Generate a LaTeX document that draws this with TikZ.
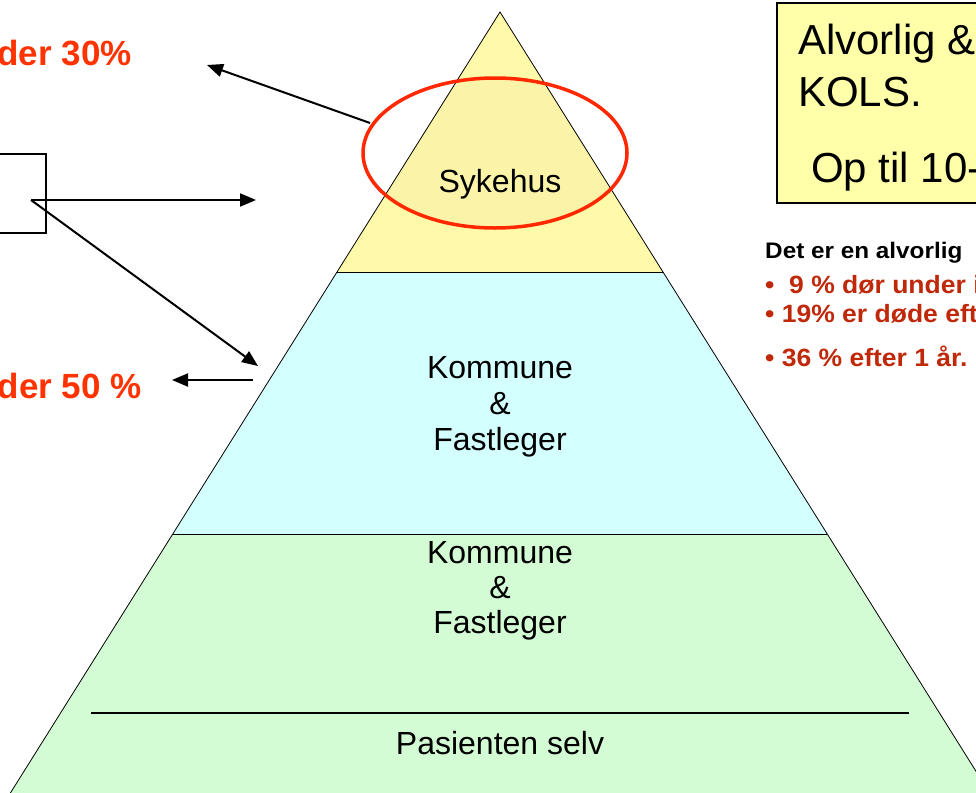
\documentclass[tikz,border=0pt]{standalone}
\usepackage{fontspec}
\setmainfont{Liberation Sans}
\newfontfamily\widesans[FakeStretch=1.06]{Liberation Sans}
\newfontfamily\widesansb[FakeStretch=1.08]{Liberation Sans}
\usetikzlibrary{arrows.meta}
\definecolor{pyel}{RGB}{255,250,170}
\definecolor{pyeldark}{RGB}{250,243,168}
\definecolor{pcyan}{RGB}{212,255,255}
\definecolor{pgreen}{RGB}{212,252,212}
\definecolor{boxyel}{RGB}{255,255,170}
\definecolor{ellred}{RGB}{255,40,0}
\definecolor{lred}{RGB}{255,51,0}
\definecolor{dred}{RGB}{192,40,10}
\tikzset{
  lbl/.style={inner sep=0pt, anchor=base, font=\fontsize{32}{36}\selectfont},
  bigtxt/.style={inner sep=0pt, anchor=base west, font=\fontsize{42}{48}\selectfont},
  redleft/.style={inner sep=0pt, anchor=base east, text=lred, font=\bfseries\fontsize{35}{40}\selectfont},
  redlist/.style={inner sep=0pt, anchor=base west, text=dred, font=\widesans\bfseries\fontsize{25}{28}\selectfont},
  arr/.style={line width=2pt, -{Triangle[length=16pt,width=13pt]}},
}
\begin{document}
\begin{tikzpicture}[x=1pt,y=-1pt]
\useasboundingbox (0,0) rectangle (976,792);
\clip (0,0) rectangle (976,792);
\fill[white] (0,0) rectangle (976,792);
% pyramid bands
\fill[pyel] (500,12) -- (663,272) -- (337,272) -- cycle;
\fill[pcyan] (337,272) -- (663,272) -- (827,534) -- (173,534) -- cycle;
\fill[pgreen] (173,534) -- (827,534) -- (994,800) -- (6,800) -- cycle;
\begin{scope}
  \clip (500,12) -- (663,272) -- (337,272) -- cycle;
  \fill[pyeldark] (495,153) ellipse [x radius=132, y radius=75];
\end{scope}
\draw[line width=0.8pt] (6,800) -- (500,12) -- (994,800);
\draw[line width=0.8pt] (337,272) -- (663,272);
\draw[line width=0.8pt] (173,534) -- (827,534);
\draw[line width=2pt] (91,713) -- (909,713);
% red ellipse
\draw[ellred, line width=3.5pt] (495,153) ellipse [x radius=132, y radius=75];
% pyramid texts
\node[lbl] (syk) at (500,192) {Sykehus};
\node[lbl] (k1a) at (500,378) {Kommune};
\node[lbl] (k1b) at (500,414) {\&};
\node[lbl] (k1c) at (500,450) {Fastleger};
\node[lbl] (k2a) at (500,563) {Kommune};
\node[lbl] (k2b) at (500,598) {\&};
\node[lbl] (k2c) at (500,633) {Fastleger};
\node[lbl] (pas) at (500,754) {Pasienten selv};
% top-right box
\draw[fill=boxyel, line width=2pt] (777,3) rectangle (1010,203);
\node[bigtxt] (b1) at (798,55) {Alvorlig \&};
\node[bigtxt] (b2) at (798,106) {KOLS.};
\node[bigtxt] (b3) at (811,182) {Op til 10-};
% right list
\node[inner sep=0pt, anchor=base west, font=\widesansb\bfseries\fontsize{22.5}{24}\selectfont] (d0) at (765,258) {Det er en alvorlig};
\node[redlist] (d1) at (765,293) {\textbullet\ \ 9 \% dør under i};
\node[redlist] (d2) at (765,322) {\textbullet\ 19\% er døde eft};
\node[redlist] (d3) at (765,366) {\textbullet\ 36 \% efter 1 år.};
% left texts
\node[redleft] (l30) at (132,65) {der 30\%};
\node[redleft] (l50) at (142,398) {der 50 \%};
% left box
\node[draw, line width=1.5pt, minimum width=66pt, minimum height=79pt, inner sep=0pt] (lbox) at (13,193.5) {};
% arrows
\coordinate (o) at (31,200);
\coordinate (e1s) at (370,123);
\coordinate (e1e) at (207,65);
\coordinate (e2e) at (256,200);
\coordinate (e3e) at (258,366);
\coordinate (e4s) at (253,380);
\coordinate (e4e) at (172,380);
\draw[arr] (e1s) -- (e1e);
\draw[arr] (o) -- (e2e);
\draw[arr] (o) -- (e3e);
\draw[arr] (e4s) -- (e4e);
\end{tikzpicture}
\end{document}
